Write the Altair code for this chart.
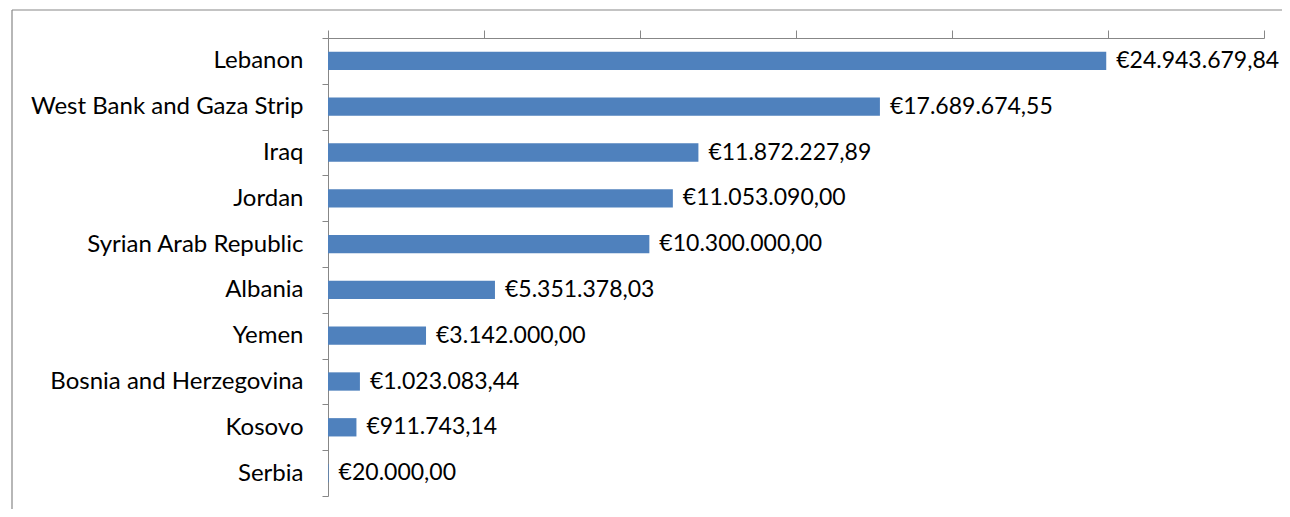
import altair as alt
import pandas as pd

countries = ["Lebanon", "West Bank and Gaza Strip", "Iraq", "Jordan",
             "Syrian Arab Republic", "Albania", "Yemen",
             "Bosnia and Herzegovina", "Kosovo", "Serbia"]
amounts = [24943679.84, 17689674.55, 11872227.89, 11053090.00, 10300000.00,
           5351378.03, 3142000.00, 1023083.44, 911743.14, 20000.00]
x_ticks = [0, 5000000, 10000000, 15000000, 20000000, 25000000, 30000000]
title_text = ("Grafico 2 - Erogazioni verso i Paesi dei Balcani e del Medio "
              "Oriente (esclusi i contributi regionali)")


def fmt(v):
    s = f"{v:,.2f}"
    return "€" + s.replace(",", "X").replace(".", ",").replace("X", ".")


df = pd.DataFrame({"country": countries, "amount": amounts,
                   "label": [fmt(v) for v in amounts]})

FONT = "Lato"
GRAY = "#878787"
BLUE = "#4F81BD"

y_enc = alt.Y("country:N", sort=countries,
              scale=alt.Scale(paddingInner=0, paddingOuter=0),
              axis=alt.Axis(title=None, tickBand="extent", domainColor=GRAY,
                            tickColor=GRAY, tickSize=6, labelFont=FONT,
                            labelFontSize=24, labelColor="black",
                            labelPadding=19, labelLimit=400))
x_enc = alt.X("amount:Q", scale=alt.Scale(domain=[0, 30000000], nice=False),
              axis=alt.Axis(orient="top", title=None, labels=False, grid=False,
                            values=x_ticks, tickSize=8, domainColor=GRAY,
                            tickColor=GRAY))

bars = alt.Chart(df).mark_bar(color=BLUE, height=alt.RelativeBandSize(0.4)).encode(
    x=x_enc, y=y_enc)

values = alt.Chart(df).mark_text(align="left", baseline="middle", dx=10, font=FONT,
                                 fontSize=23, color="black").encode(
    x="amount:Q", y=alt.Y("country:N", sort=countries), text="label:N")

one = pd.DataFrame({"t": [title_text]})
frame_top = alt.Chart(one).mark_rule(stroke=GRAY, strokeWidth=1.2).encode(
    x=alt.value(-316), x2=alt.value(954), y=alt.value(-28))
frame_left = alt.Chart(one).mark_rule(stroke=GRAY, strokeWidth=1.2).encode(
    x=alt.value(-316), y=alt.value(-28), y2=alt.value(471))

title = alt.Chart(one).mark_text(align="center", baseline="alphabetic", font=FONT,
                                 fontSize=21, fontWeight="bold", fontStyle="italic",
                                 color="black").encode(
    x=alt.value(327), y=alt.value(-37), text="t:N")

chart = alt.layer(frame_top, frame_left, title, bars, values).properties(
    width=936, height=458,
    padding={"left": 320, "top": 30, "right": 18, "bottom": 13},
    autosize="none",
).configure_view(stroke=None)

chart.save("out.html", embed_options={"renderer": "svg", "actions": False})
